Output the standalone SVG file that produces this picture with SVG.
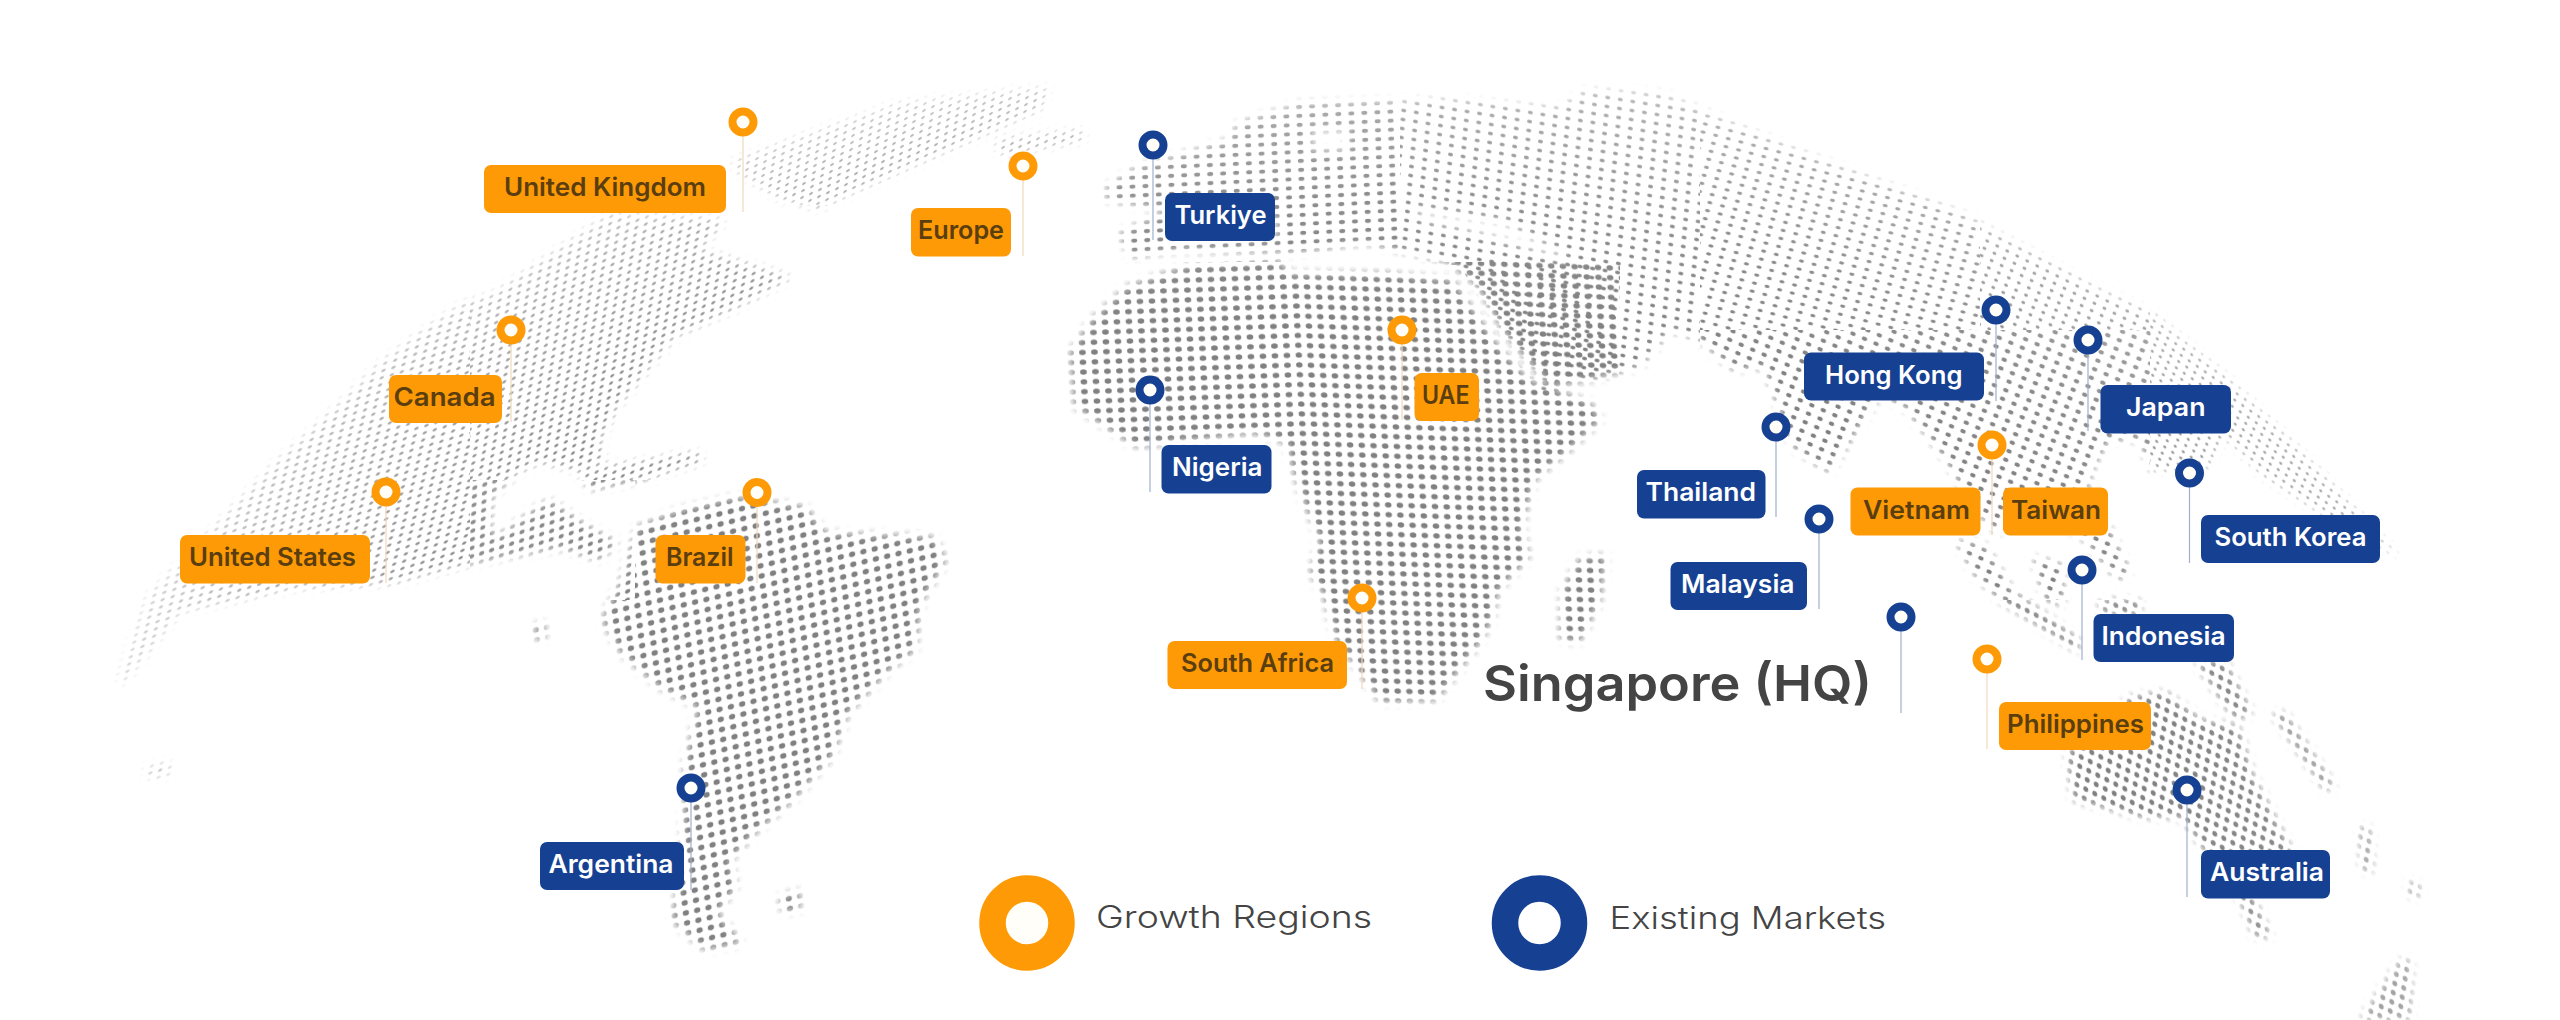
<svg xmlns="http://www.w3.org/2000/svg" width="2560" height="1020" viewBox="0 0 2560 1020">
<style>
text{font-family:"Inter","Noto Sans","Liberation Sans",sans-serif}
.l{font-size:25.5px;font-weight:600}
.o rect{fill:#fe9a05}.o text{fill:#5a3e10}.o .p{stroke:#fe9a05}
.n rect{fill:#164193}.n text{fill:#fff}.n .p{stroke:#164193}
.p{fill:#fffef8;stroke-width:8}
#connectors line{stroke-width:1.2}
.co{stroke:#eed9b8}.cn{stroke:#9fb0cf}
pattern circle{fill:#808080}
.lg{font-size:31px;font-weight:300;fill:#444}
</style>
<defs>
<pattern id="gNaW" width="10" height="10" patternUnits="userSpaceOnUse" patternTransform="matrix(1 -.3 -.17 .73 0 0)"><circle cx="5" cy="5" r="2.2"/></pattern>
<pattern id="gNaE" width="10" height="10" patternUnits="userSpaceOnUse" patternTransform="matrix(.95 -.36 -.12 .74 0 0)"><circle cx="5" cy="5" r="2.2"/></pattern>
<pattern id="gCa" width="10" height="10" patternUnits="userSpaceOnUse" patternTransform="matrix(1 -.32 -.04 .86 0 0)"><circle cx="5" cy="5" r="2.5"/></pattern>
<pattern id="gGr" width="10" height="10" patternUnits="userSpaceOnUse" patternTransform="matrix(.9 -.4 -.1 .7 0 0)"><circle cx="5" cy="5" r="2"/></pattern>
<pattern id="gSa" width="10" height="10" patternUnits="userSpaceOnUse" patternTransform="matrix(1.13 -.27 .12 1 728.750 640.350)"><circle cx="5" cy="5" r="2.750"/></pattern>
<pattern id="gEu" width="10" height="10" patternUnits="userSpaceOnUse" patternTransform="matrix(1.3 -.06 .03 .9 0 0)"><circle cx="5" cy="5" r="2.300"/></pattern>
<pattern id="gAw" width="10" height="10" patternUnits="userSpaceOnUse" patternTransform="matrix(1.2 -.04 .05 .98 1297.200 438.550)"><circle cx="5" cy="5" r="2.800"/></pattern>
<pattern id="gAf" width="10" height="10" patternUnits="userSpaceOnUse" patternTransform="matrix(1.17 .04 .05 .98 1297.200 438.200)"><circle cx="5" cy="5" r="2.800"/></pattern>
<pattern id="gAc" width="10" height="10" patternUnits="userSpaceOnUse" patternTransform="matrix(1.25 .2 -.08 .9 0 0)"><circle cx="5" cy="5" r="2"/></pattern>
<pattern id="gAn" width="10" height="10" patternUnits="userSpaceOnUse" patternTransform="matrix(1.26 .33 -.23 .8 0 0)"><circle cx="5" cy="5" r="2"/></pattern>
<pattern id="gSe" width="10" height="10" patternUnits="userSpaceOnUse" patternTransform="matrix(1.15 .5 -.33 .85 0 0)"><circle cx="5" cy="5" r="2.200"/></pattern>
<pattern id="gNe" width="10" height="10" patternUnits="userSpaceOnUse" patternTransform="matrix(1 .5 -.28 .73 0 0)"><circle cx="5" cy="5" r="1.800"/></pattern>
<pattern id="gEe" width="10" height="10" patternUnits="userSpaceOnUse" patternTransform="matrix(.8 .55 -.25 .62 0 0)"><circle cx="5" cy="5" r="1.700"/></pattern>
<pattern id="gAu" width="10" height="10" patternUnits="userSpaceOnUse" patternTransform="matrix(.9 .45 -.15 .92 0 0)"><circle cx="5" cy="5" r="2.700"/></pattern>
<radialGradient id="fd" gradientUnits="userSpaceOnUse" cx="0" cy="0" r="1" gradientTransform="translate(1350 800) scale(1300 800)">
<stop offset=".6" stop-color="#fff"/><stop offset=".75" stop-color="#fff" stop-opacity=".9"/><stop offset=".88" stop-color="#fff" stop-opacity=".65"/><stop offset="1" stop-color="#fff" stop-opacity=".15"/>
</radialGradient>
<filter id="bl" filterUnits="userSpaceOnUse" x="0" y="0" width="2560" height="1020"><feGaussianBlur stdDeviation="4"/></filter>
<mask id="fade" maskUnits="userSpaceOnUse" x="0" y="0" width="2560" height="1020"><rect width="2560" height="1020" fill="url(#fd)"/></mask>
<mask id="land" maskUnits="userSpaceOnUse" x="0" y="0" width="2560" height="1020">
<g filter="url(#bl)">
<path fill="#fff" d="M731 160L897 103L1050 87L1040 110L865 187L820 208L782 200L738 173Z
M996 140L1082 130L1085 140L1000 155Z
M610 213L725 220L700 250L712 253L792 277L738 307L674 337L655 360L617 407L600 440L603 462L575 470L540 462L517 473L492 497L490 527L497 537L543 503L553 500L557 523L573 523L583 540L560 548L506 557L473 563L392 583L294 588L180 612L122 686L118 680L147 596L208 533L278 460L336 407L380 363L419 333L463 303L495 293Z
M578 470L637 462L700 452L702 462L640 480L590 490Z
M500 543L554 502L583 523L618 543L599 560L557 547L506 557Z
M145 768L170 762L170 775L147 778Z M535 625L545 622L545 640L535 640Z
M736 497L806 507L825 533L934 537L946 560L921 603L915 650L889 670L848 713L832 757L793 800L755 833L730 860L736 887L717 913L742 943L704 950L672 920L682 863L685 763L698 707L659 687L621 653L602 620L621 580L637 527L679 510Z
M780 897L800 890L800 910L782 912Z
M1070 353L1091 320L1126 287L1193 263L1279 260L1290 273L1387 273L1453 280L1499 347L1529 380L1591 403L1601 420L1570 450L1534 480L1522 527L1529 557L1499 590L1490 625L1478 645L1437 700L1380 702L1335 637L1323 593L1310 573L1320 540L1303 500L1290 460L1287 443L1254 433L1136 447L1106 427L1075 407Z
M1580 558L1606 555L1600 600L1580 642L1560 640L1562 590Z
M1106 187L1136 167L1162 160L1228 140L1238 123L1300 103L1450 100L1560 108L1585 90L1662 93L1796 150L1959 212L2100 290L2153 313L2227 377L2300 450L2400 557L2340 525L2262 475L2225 435L2206 470L2150 470L2140 440L2109 440L2092 470L2085 500L2109 527L2130 573L2118 580L2080 535L2012 495L2000 535L1975 510L1946 460L1905 407L1880 395L1829 473L1793 447L1764 367L1733 370L1700 340L1670 330L1657 347L1640 367L1590 380L1550 387L1504 333L1478 287L1448 262L1366 243L1300 252L1182 250L1130 257L1119 233L1170 210L1106 200Z
M1956 540L1985 545L2012 590L2079 640L2079 652L2000 600L1975 575Z
M2033 557L2063 565L2063 605L2045 600Z M2100 600L2140 600L2140 615L2100 612Z
M2196 663L2225 660L2252 713L2235 720Z
M2272 713L2285 713L2335 787L2325 790Z
M2360 827L2370 827L2372 873L2362 870Z M2408 880L2420 885L2420 897L2410 897Z
M2360 1020L2400 960L2411 960L2411 1020Z
M2067 753L2130 697L2166 692L2201 720L2239 727L2252 773L2290 847L2300 880L2250 890L2271 937L2255 937L2240 900L2181 817L2143 817L2073 800Z"/>
<path fill="#000" d="M1310 127L1350 127L1350 153L1310 153Z M1410 205L1505 218L1570 255L1560 262L1490 240L1420 222Z M1225 215L1280 215L1280 240L1225 240Z"/>
</g>
</mask>
</defs>
<rect width="2560" height="1020" fill="#fff"/>
<g id="dots" mask="url(#fade)"><g mask="url(#land)">
<rect x="0" y="205" width="470" height="815" fill="url(#gNaW)"/>
<rect x="470" y="205" width="360" height="275" fill="url(#gNaE)"/>
<rect x="470" y="480" width="165" height="120" fill="url(#gCa)"/>
<rect x="600" y="0" width="500" height="205" fill="url(#gGr)"/>
<rect x="635" y="480" width="415" height="540" fill="url(#gSa)"/>
<rect x="470" y="600" width="165" height="420" fill="url(#gSa)"/>
<rect x="1100" y="0" width="300" height="262" fill="url(#gEu)"/>
<rect x="1050" y="262" width="250" height="758" fill="url(#gAw)"/>
<rect x="1300" y="262" width="320" height="758" fill="url(#gAf)"/>
<path d="M1400 0H1700V500L1620 395H1540L1500 340L1460 265H1400Z" fill="url(#gAc)"/>
<rect x="1700" y="0" width="280" height="330" fill="url(#gAn)"/>
<rect x="1700" y="330" width="450" height="270" fill="url(#gSe)"/>
<rect x="1980" y="0" width="170" height="330" fill="url(#gNe)"/>
<rect x="2150" y="0" width="300" height="600" fill="url(#gEe)"/>
<rect x="1990" y="600" width="470" height="420" fill="url(#gAu)"/>
</g></g>
<g id="connectors">
<line class="co" x1="743" y1="122" x2="743" y2="212"/>
<line class="co" x1="1023" y1="166" x2="1023" y2="256"/>
<line class="co" x1="511" y1="330" x2="511" y2="422"/>
<line class="co" x1="386" y1="492" x2="386" y2="583"/>
<line class="co" x1="757" y1="492" x2="757" y2="583"/>
<line class="cn" x1="691" y1="788" x2="691" y2="890"/>
<line class="co" x1="1362" y1="598" x2="1362" y2="689"/>
<line class="cn" x1="1153" y1="145" x2="1153" y2="240"/>
<line class="cn" x1="1150" y1="390" x2="1150" y2="492"/>
<line class="co" x1="1402" y1="330" x2="1402" y2="420"/>
<line class="cn" x1="1996" y1="310" x2="1996" y2="401"/>
<line class="cn" x1="2088" y1="340" x2="2088" y2="431"/>
<line class="cn" x1="1776" y1="427" x2="1776" y2="517"/>
<line class="cn" x1="1819" y1="519" x2="1819" y2="609"/>
<line class="co" x1="1992" y1="445" x2="1992" y2="535"/>
<line class="cn" x1="2189.500" y1="473" x2="2189.500" y2="563"/>
<line class="cn" x1="2082" y1="570" x2="2082" y2="660"/>
<line class="cn" x1="1901" y1="617" x2="1901" y2="713"/>
<line class="co" x1="1987" y1="659" x2="1987" y2="749"/>
<line class="cn" x1="2187" y1="790" x2="2187" y2="897"/>
</g>
<g id="nodes">
<g id="united-kingdom" class="o"><rect x="484" y="165" width="242" height="48" rx="7"/><text class="l" x="504" y="196" textLength="202" lengthAdjust="spacingAndGlyphs">United Kingdom</text><circle class="p" cx="743" cy="122" r="10.500"/></g>
<g id="europe" class="o"><rect x="911" y="208" width="100" height="48.500" rx="7"/><text class="l" x="918" y="239" textLength="86" lengthAdjust="spacingAndGlyphs">Europe</text><circle class="p" cx="1023" cy="166" r="10.500"/></g>
<g id="canada" class="o"><rect x="389" y="375" width="113" height="48" rx="7"/><text class="l" x="393.500" y="406" textLength="102" lengthAdjust="spacingAndGlyphs">Canada</text><circle class="p" cx="511" cy="330" r="10.500"/></g>
<g id="united-states" class="o"><rect x="180" y="535" width="190" height="48.500" rx="7"/><text class="l" x="189" y="566" textLength="167" lengthAdjust="spacingAndGlyphs">United States</text><circle class="p" cx="386" cy="492" r="10.500"/></g>
<g id="brazil" class="o"><rect x="655.500" y="535" width="90" height="48.500" rx="7"/><text class="l" x="666" y="566" textLength="67.500" lengthAdjust="spacingAndGlyphs">Brazil</text><circle class="p" cx="757" cy="492.500" r="10.500"/></g>
<g id="argentina" class="n"><rect x="540" y="842" width="144" height="48" rx="7"/><text class="l" x="548.500" y="873" textLength="125" lengthAdjust="spacingAndGlyphs">Argentina</text><circle class="p" cx="691" cy="788" r="10.500"/></g>
<g id="south-africa" class="o"><rect x="1167.500" y="641" width="179.500" height="48" rx="7"/><text class="l" x="1181" y="672" textLength="153" lengthAdjust="spacingAndGlyphs">South Africa</text><circle class="p" cx="1362" cy="598" r="10.500"/></g>
<g id="turkiye" class="n"><rect x="1165" y="193" width="110" height="48" rx="7"/><text class="l" x="1174.500" y="224" textLength="92" lengthAdjust="spacingAndGlyphs">Turkiye</text><circle class="p" cx="1153" cy="145" r="10.500"/></g>
<g id="nigeria" class="n"><rect x="1161.500" y="445" width="110" height="48.500" rx="7"/><text class="l" x="1172" y="476" textLength="90.500" lengthAdjust="spacingAndGlyphs">Nigeria</text><circle class="p" cx="1150" cy="390" r="10.500"/></g>
<g id="uae" class="o"><rect x="1414.500" y="373" width="64.500" height="48" rx="7"/><text class="l" x="1422" y="404" textLength="47.500" lengthAdjust="spacingAndGlyphs">UAE</text><circle class="p" cx="1402" cy="330" r="10.500"/></g>
<g id="hong-kong" class="n"><rect x="1804" y="352.500" width="180" height="48" rx="7"/><text class="l" x="1825" y="383.500" textLength="137.500" lengthAdjust="spacingAndGlyphs">Hong Kong</text><circle class="p" cx="1996" cy="310" r="10.500"/></g>
<g id="japan" class="n"><rect x="2100.500" y="385" width="130.500" height="48.500" rx="7"/><text class="l" x="2126" y="416" textLength="79.500" lengthAdjust="spacingAndGlyphs">Japan</text><circle class="p" cx="2088" cy="340" r="10.500"/></g>
<g id="thailand" class="n"><rect x="1637" y="470" width="128.500" height="48.500" rx="7"/><text class="l" x="1645.500" y="501" textLength="110.500" lengthAdjust="spacingAndGlyphs">Thailand</text><circle class="p" cx="1776" cy="427" r="10.500"/></g>
<g id="malaysia" class="n"><rect x="1670.500" y="562" width="136.500" height="48" rx="7"/><text class="l" x="1681" y="593" textLength="113.500" lengthAdjust="spacingAndGlyphs">Malaysia</text><circle class="p" cx="1819" cy="519" r="10.500"/></g>
<g id="vietnam" class="o"><rect x="1850.500" y="487.500" width="130" height="48" rx="7"/><text class="l" x="1863" y="518.500" textLength="107" lengthAdjust="spacingAndGlyphs">Vietnam</text></g>
<g id="taiwan" class="o"><rect x="2003" y="487.500" width="105" height="48" rx="7"/><text class="l" x="2011" y="518.500" textLength="90" lengthAdjust="spacingAndGlyphs">Taiwan</text><circle class="p" cx="1992" cy="445" r="10.500"/></g>
<g id="south-korea" class="n"><rect x="2201" y="515" width="179" height="48" rx="7"/><text class="l" x="2214.500" y="546" textLength="152" lengthAdjust="spacingAndGlyphs">South Korea</text><circle class="p" cx="2189.500" cy="473" r="10.500"/></g>
<g id="indonesia" class="n"><rect x="2093.500" y="614" width="140.500" height="48" rx="7"/><text class="l" x="2101.500" y="645" textLength="124" lengthAdjust="spacingAndGlyphs">Indonesia</text><circle class="p" cx="2082" cy="570" r="10.500"/></g>
<g id="philippines" class="o"><rect x="1999" y="702" width="152" height="48" rx="7"/><text class="l" x="2007" y="733" textLength="137" lengthAdjust="spacingAndGlyphs">Philippines</text><circle class="p" cx="1987" cy="659" r="10.500"/></g>
<g id="australia" class="n"><rect x="2201" y="850" width="129" height="48.500" rx="7"/><text class="l" x="2210" y="881" textLength="114" lengthAdjust="spacingAndGlyphs">Australia</text><circle class="p" cx="2187" cy="790" r="10.500"/></g>
<g id="singapore" class="n"><text x="1483" y="701" font-size="50" font-weight="600" style="fill:#444" textLength="389" lengthAdjust="spacingAndGlyphs">Singapore (HQ)</text><circle class="p" cx="1901" cy="617" r="10.500"/></g>
<g id="legend-growth"><circle cx="1027" cy="923" r="34.500" fill="#fffef8" stroke="#fe9a05" stroke-width="26.500"/><text class="lg" x="1096" y="928" textLength="276" lengthAdjust="spacingAndGlyphs">Growth Regions</text></g>
<g id="legend-existing"><circle cx="1539.500" cy="923" r="34.500" fill="#fff" stroke="#164193" stroke-width="26.500"/><text class="lg" x="1609.500" y="928.500" textLength="276.500" lengthAdjust="spacingAndGlyphs">Existing Markets</text></g>
</g>
</svg>
